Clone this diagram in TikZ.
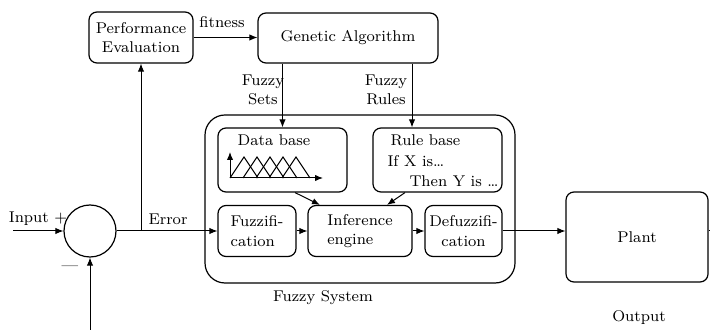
\documentclass[tikz,border=0pt]{standalone}
\usetikzlibrary{arrows.meta}
\begin{document}
\begin{tikzpicture}[x=0.5pt,y=-0.5pt,line width=0.5pt,
  font=\fontsize{7.8}{9.8}\selectfont,
  >={Latex[length=4pt,width=3.2pt]},
  box/.style={draw,line width=0.6pt,rounded corners=4pt,inner sep=0pt},
  txt/.style={inner sep=0pt}]
\useasboundingbox (0,0) rectangle (710,330);

% GA loop
\node[box,minimum width=52pt,minimum height=25.5pt,align=center] (perf) at (141,37.5) {Performance\\Evaluation};
\node[box,minimum width=90pt,minimum height=25pt] (ga) at (348,38) {Genetic Algorithm};

% fuzzy system
\node[box,rounded corners=10pt,minimum width=155pt,minimum height=84pt] (fsys) at (360,199) {};
\node[box,minimum width=64.5pt,minimum height=32pt] (db) at (282.5,160) {};
\node[box,minimum width=64.5pt,minimum height=32pt] (rb) at (437.5,160) {};
\node[box,minimum width=39pt,minimum height=25.5pt,align=left] (fuzz) at (257,231) {Fuzzifi-\\cation};
\node[box,minimum width=52pt,minimum height=25.5pt,align=left] (inf) at (360,231) {Inference\\engine};
\node[box,minimum width=38.5pt,minimum height=25.5pt,align=center] (defuzz) at (463.5,231) {Defuzzifi-\\cation};
\node[box,minimum width=71pt,minimum height=45pt] (plant) at (637,237) {Plant};
\node[draw,circle,line width=0.6pt,minimum size=26pt,inner sep=0pt] (sum) at (90,231) {};

\node[txt] (dbtitle) at (274,140) {Data base};
\node[txt,anchor=west] (rbtitle) at (390,140) {Rule base};
\node[txt,anchor=west] (rbif) at (387,161) {If X is\ldots};
\node[txt,anchor=west] (rbthen) at (409,181) {Then Y is \ldots};

% membership functions
\draw[->] (230,178) -- (230,152);
\draw[->] (230,178) -- (323,178);
\foreach \p in {244,257,270,283,296}
  \draw (\p-14,178) -- (\p,157) -- (\p+14,178);

% labels
\node[txt] (fitlbl) at (222,22) {fitness};
\node[txt,align=center] (setslbl) at (263,90) {Fuzzy\\Sets};
\node[txt,align=center] (ruleslbl) at (386,90) {Fuzzy\\Rules};
\node[txt] (inlbl) at (38,219) {Input +};
\node[txt] (minus) at (70,268) {---};
\node[txt] (errlbl) at (168,219) {Error};
\node[txt] (fsyslbl) at (323,298) {Fuzzy System};
\node[txt] (outlbl) at (639,318) {Output};

\coordinate (in) at (13,231);
\coordinate (fb) at (90,330);
\coordinate (split) at (perf.south |- sum.east);
\coordinate (out) at (710,231);

% connectors
\draw[->] (in) -- (sum);
\draw[->] (fb) -- (sum);
\draw (sum) -- (split);
\draw[->] (split) -- (fuzz);
\draw[->] (split) -- (perf);
\draw[->] (perf.east) -- (ga.west |- perf.east);
\draw[->] (db.north |- ga.south) -- (db.north);
\draw[->] ([xshift=32pt]ga.south) -- ([xshift=32pt]ga.south |- rb.north);
\draw[->] ([xshift=6.25pt]db.south) -- ([xshift=-20pt]inf.north);
\draw[->] ([xshift=-16.25pt]rb.south) -- ([xshift=13.5pt]inf.north);
\draw[->] (fuzz) -- (inf);
\draw[->] (inf) -- (defuzz);
\draw[->] (defuzz) -- (plant.west |- defuzz.east);
\draw (plant.east |- defuzz.east) -- (out);

\end{tikzpicture}
\end{document}
